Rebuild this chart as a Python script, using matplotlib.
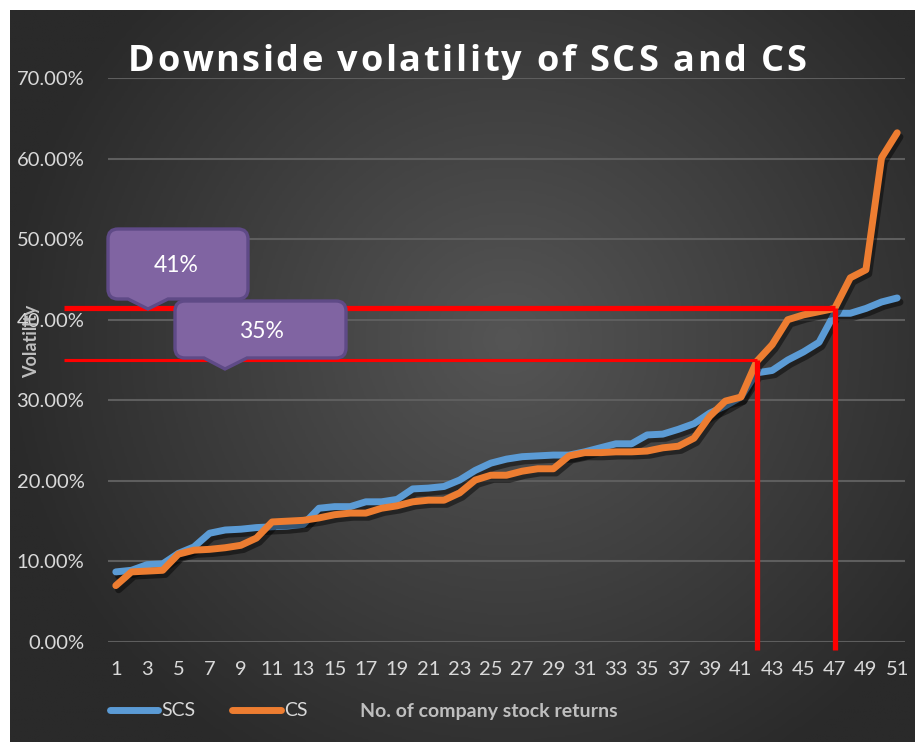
import matplotlib.pyplot as plt
import matplotlib.patheffects as pe
import numpy as np
from matplotlib.path import Path
from matplotlib.patches import PathPatch
from matplotlib.lines import Line2D
from matplotlib.colors import LinearSegmentedColormap

# data (volatility in %)
companies = list(range(1, 52))
scs = [8.7, 8.9, 9.6, 9.7, 11.0, 11.8, 13.5, 13.9, 14.0, 14.2,
       14.3, 14.4, 14.6, 16.6, 16.8, 16.8, 17.4, 17.4, 17.7, 19.0,
       19.1, 19.3, 20.1, 21.3, 22.2, 22.7, 23.0, 23.1, 23.2, 23.2,
       23.6, 24.1, 24.6, 24.6, 25.7, 25.8, 26.4, 27.1, 28.4, 29.3,
       30.4, 33.4, 33.7, 35.0, 36.0, 37.2, 40.8, 40.8, 41.4, 42.2,
       42.7]
cs = [7.0, 8.7, 8.8, 8.9, 10.9, 11.4, 11.5, 11.7, 12.0, 12.9,
      14.9, 15.0, 15.1, 15.4, 15.8, 16.0, 16.0, 16.6, 16.9, 17.4,
      17.6, 17.6, 18.5, 20.1, 20.7, 20.7, 21.2, 21.5, 21.5, 23.1,
      23.5, 23.5, 23.6, 23.6, 23.7, 24.1, 24.3, 25.3, 28.0, 29.9,
      30.4, 34.8, 36.9, 40.0, 40.6, 41.0, 41.4, 45.2, 46.2, 60.1,
      63.2]
yticks = [0, 10, 20, 30, 40, 50, 60, 70]
xticks = list(range(1, 52, 2))
marks = [(42, 35.0, 3), (47, 41.5, 5)]   # (company, level, line px)
callouts = ["41%", "35%"]
title = "Downside volatility of SCS and CS"

W, H = 915, 742
fig = plt.figure(figsize=(W / 100, H / 100), dpi=100, facecolor="white")
font = ["Lato", "DejaVu Sans"]
plt.rcParams["font.family"] = font

# dark gradient background
bg = fig.add_axes([10 / W, 0, 1 - 10 / W, (H - 10) / H])
gx, gy = np.meshgrid(np.linspace(0, 1, 300), np.linspace(0, 1, 300))
r = np.sqrt(((gx - 0.55) / 0.75) ** 2 + ((gy - 0.45) / 0.9) ** 2)
cmap = LinearSegmentedColormap.from_list("bg", ["#555555", "#2a2a2a"])
bg.imshow(r, cmap=cmap, aspect="auto", extent=[0, 1, 0, 1], vmin=0, vmax=0.75)
bg.axis("off")

ax = fig.add_axes([108 / W, 100 / H, 797 / W, 564 / H])
ax.set_facecolor("none")
shadow = [pe.SimpleLineShadow(offset=(2, -3), shadow_color="black", alpha=0.45), pe.Normal()]
ax.plot(companies, scs, color="#5B9BD5", lw=5, solid_capstyle="round",
        solid_joinstyle="round", path_effects=shadow, zorder=3)
ax.plot(companies, cs, color="#ED7D31", lw=5, solid_capstyle="round",
        solid_joinstyle="round", path_effects=shadow, zorder=4)

ax.set_xlim(0.5, 51.5)
ax.set_ylim(0, 70)
ax.set_yticks(yticks)
ax.set_yticklabels([f"{v:.2f}%" for v in yticks])
ax.set_xticks(xticks)
ax.tick_params(length=0, colors="#D9D9D9", labelsize=14.5)
ax.tick_params(axis="y", pad=17)
ax.tick_params(axis="x", pad=14)
ax.grid(axis="y", color="#5e5e5e", lw=1.5)
ax.set_axisbelow(True)
for s in ax.spines.values():
    s.set_visible(False)

# red guide lines
for comp, lvl, lw in marks:
    ax.plot([-2.3, comp], [lvl, lvl], color="#FF0000", lw=lw * 0.75,
            clip_on=False, zorder=5, solid_capstyle="butt")
    ax.plot([comp, comp], [lvl, -1], color="#FF0000", lw=3.8,
            clip_on=False, zorder=5, solid_capstyle="butt")


def callout(x0, y0, x1, y1, bl, br, tx, ty, rad=10):
    # pixel coords, y from top
    pts = [(x0 + rad, y0), (x1 - rad, y0), (x1, y0), (x1, y0 + rad),
           (x1, y1 - rad), (x1, y1), (x1 - rad, y1), (br, y1), (tx, ty),
           (bl, y1), (x0 + rad, y1), (x0, y1), (x0, y1 - rad),
           (x0, y0 + rad), (x0, y0), (x0 + rad, y0), (x0 + rad, y0)]
    codes = [Path.MOVETO, Path.LINETO, Path.CURVE3, Path.CURVE3,
             Path.LINETO, Path.CURVE3, Path.CURVE3, Path.LINETO, Path.LINETO,
             Path.LINETO, Path.LINETO, Path.CURVE3, Path.CURVE3,
             Path.LINETO, Path.CURVE3, Path.CURVE3, Path.CLOSEPOLY]
    verts = [(x / W, 1 - y / H) for x, y in pts]
    p = PathPatch(Path(verts, codes), facecolor="#8064A2", edgecolor="#5F4A87",
                  lw=2.4, transform=fig.transFigure, zorder=10)
    fig.add_artist(p)


callout(108, 229, 248, 299, 128, 168, 148, 309)
fig.text(176 / W, 1 - 266 / H, callouts[0], color="white", fontsize=16.5,
         ha="center", va="center", zorder=11)
callout(175, 301, 346, 358, 204, 247, 225, 369)
fig.text(261 / W, 1 - 332 / H, callouts[1], color="white", fontsize=16.5,
         ha="center", va="center", zorder=11)

# title with letter spacing (drawn char by char)
renderer = fig.canvas.get_renderer()
tkw = dict(color="white", fontsize=26, fontweight="bold", va="center",
           family=["Open Sans", "DejaVu Sans"])
probe = fig.text(0, 0, title, **tkw)
full_w = probe.get_window_extent(renderer).width
probe.remove()
spacing = 2.6
x_start = 467 - (full_w + spacing * (len(title) - 1)) / 2
for i, ch in enumerate(title):
    if i:
        pre = fig.text(0, 0, title[:i] + "|", **tkw)
        bar = fig.text(0, 0, "|", **tkw)
        w = pre.get_window_extent(renderer).width - bar.get_window_extent(renderer).width
        pre.remove()
        bar.remove()
    else:
        w = 0
    if ch != " ":
        fig.text((x_start + w + spacing * i) / W, 1 - 62 / H, ch, ha="left", **tkw)

fig.text(32 / W, 1 - 341 / H, "Volatility", color="#BFBFBF", fontsize=13,
         fontweight="bold", rotation=90, ha="center", va="center")
fig.text(360 / W, 1 - 711 / H, "No. of company stock returns", color="#BFBFBF",
         fontsize=14, fontweight="bold", ha="left", va="center")

handles = [Line2D([], [], color="#5B9BD5", lw=5, solid_capstyle="round"),
           Line2D([], [], color="#ED7D31", lw=5, solid_capstyle="round")]
fig.legend(handles, ["SCS", "CS"], loc="center left",
           bbox_to_anchor=(96 / W, 1 - 711 / H), ncol=2, frameon=False,
           fontsize=14, labelcolor="#D9D9D9", handlelength=2.5,
           handletextpad=0.15, columnspacing=1.9, borderpad=0.2)

fig.savefig("out.png", dpi=100, facecolor="white")
